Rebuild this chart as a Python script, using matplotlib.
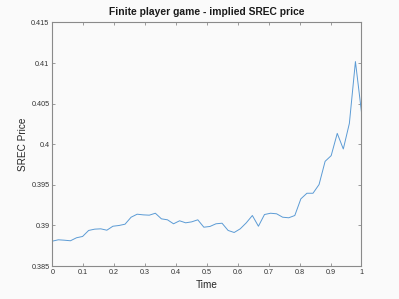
import numpy as np
import matplotlib
matplotlib.use('Agg')
import matplotlib.pyplot as plt

# implied SREC price, 52 equally spaced time steps
price = [0.38807, 0.38824, 0.38819, 0.38812, 0.38849, 0.38865, 0.38939, 0.38955,
         0.38959, 0.38942, 0.38991, 0.39000, 0.39016, 0.39102, 0.39139, 0.39131,
         0.39127, 0.39151, 0.39082, 0.39070, 0.39021, 0.39058, 0.39033, 0.39045,
         0.39070, 0.38979, 0.38988, 0.39021, 0.39028, 0.38939, 0.38914, 0.38959,
         0.39033, 0.39123, 0.38991, 0.39135, 0.39151, 0.39144, 0.39102, 0.39095,
         0.39123, 0.39328, 0.39397, 0.39397, 0.39504, 0.39790, 0.39860, 0.40134,
         0.39942, 0.40257, 0.41018, 0.40395]
time = np.linspace(0, 1, len(price))

xticks = [0, 0.1, 0.2, 0.3, 0.4, 0.5, 0.6, 0.7, 0.8, 0.9, 1]
xticklabels = ['0', '0.1', '0.2', '0.3', '0.4', '0.5', '0.6', '0.7', '0.8', '0.9', '1']
yticks = [0.385, 0.39, 0.395, 0.4, 0.405, 0.41, 0.415]
yticklabels = ['0.385', '0.39', '0.395', '0.4', '0.405', '0.41', '0.415']

plt.rcParams['font.family'] = ['Liberation Sans', 'DejaVu Sans']

fig = plt.figure(figsize=(3.99, 2.99), dpi=100, facecolor='#fafafa')
ax = fig.add_axes([0.131, 0.110, 0.775, 0.815])
ax.set_facecolor('#fafafa')

ax.plot(time, price, color='#5b9bd5', linewidth=0.7)

ax.set_xlim(0, 1)
ax.set_ylim(0.385, 0.415)
ax.set_xticks(xticks)
ax.set_xticklabels(xticklabels)
ax.set_yticks(yticks)
ax.set_yticklabels(yticklabels)

for side in ['left', 'bottom', 'top', 'right']:
    ax.spines[side].set_color('#8a8a8a')
    ax.spines[side].set_linewidth(0.8)
ax.tick_params(direction='in', length=2.5, width=0.6, colors='#8a8a8a',
               labelsize=5.2, labelcolor='#333333', top=True, right=True, pad=2)

ax.set_title('Finite player game - implied SREC price', fontsize=7.4,
             fontweight='bold', color='#1a1a1a', pad=5)
ax.set_xlabel('Time', fontsize=7.2, color='#262626', labelpad=3)
ax.set_ylabel('SREC Price', fontsize=7.2, color='#262626', labelpad=2)

fig.savefig('out.png', dpi=100, facecolor=fig.get_facecolor())
